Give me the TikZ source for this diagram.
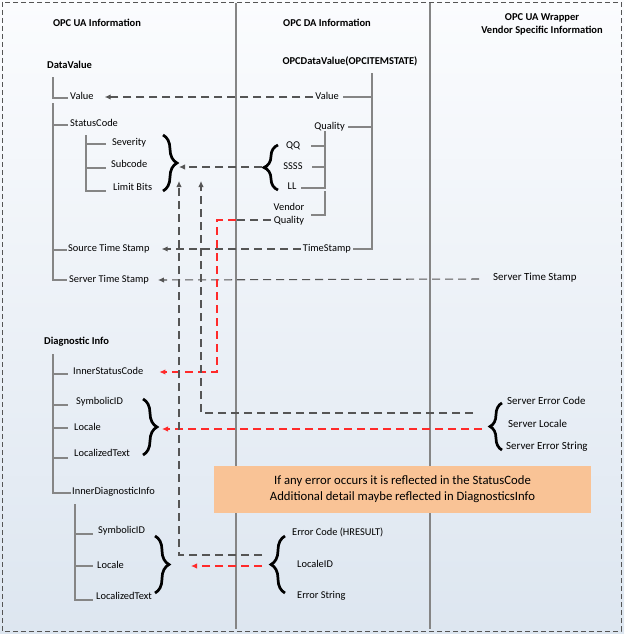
\documentclass[tikz,border=0pt]{standalone}
\usepackage{fontspec}
\setmainfont{Carlito}
\usetikzlibrary{arrows.meta,decorations.pathreplacing,calc}
\definecolor{treegray}{HTML}{858585}
\definecolor{dashgray}{HTML}{555555}
\definecolor{boxorange}{HTML}{F9C396}
\definecolor{bgtop}{HTML}{FBFCFE}
\definecolor{bgbot}{HTML}{DDE6F0}
\definecolor{dred}{HTML}{FF2A2A}
\begin{document}
\begin{tikzpicture}[x=1pt,y=-1pt,
  lbl/.style={inner sep=0pt, font=\fontsize{10.4}{12}\selectfont, text height=6.5pt, text depth=1.5pt},
  slbl/.style={lbl, font=\fontsize{10.9}{12}\selectfont},
  hdr/.style={inner sep=0pt, font=\fontsize{10.5}{13}\selectfont\bfseries},
  tree/.style={draw=treegray, line width=1.4pt},
  sep/.style={draw=treegray, line width=1.6pt},
  dline/.style={draw=dashgray, line width=1.05pt, dash pattern=on 8pt off 5pt},
  darr/.style={dline, -{Latex[length=6pt,width=5.5pt]}},
  rline/.style={draw=dred, line width=1.05pt, dash pattern=on 8pt off 5pt},
  rarr/.style={rline, -{Latex[length=6pt,width=5.5pt]}},
  bracepath/.style={draw=black, line width=2.7pt, decorate, decoration={brace, amplitude=#1}},
]
\useasboundingbox (0,0) rectangle (624,634);
\shade[top color=bgtop, bottom color=bgbot] (0,0) rectangle (624,634);
\draw[draw=dashgray, line width=0.8pt, dash pattern=on 5pt off 3pt] (2,2) rectangle (621,631);

% column separators
\draw[sep] (236,3) -- (236,629);
\draw[sep] (430,3) -- (430,629);

% headers
\node[hdr] (hUA) at (97,23) {OPC UA Information};
\node[hdr] (hDA) at (327,23) {OPC DA Information};
\node[hdr, align=center] (hW) at (542,24) {OPC UA Wrapper\\Vendor Specific Information};

% ---------------- DataValue tree
\node[hdr, anchor=west] (dv) at (47,65) {DataValue};
\node[lbl, anchor=west] (val) at (70,97) {Value};
\node[lbl, anchor=west] (sc) at (70,124) {StatusCode};
\node[lbl, anchor=west] (sev) at (112,143) {Severity};
\node[lbl, anchor=west] (sub) at (111,165) {Subcode};
\node[lbl, anchor=west] (lb) at (113,188) {Limit Bits};
\node[lbl, anchor=west] (sts) at (68,249) {Source Time Stamp};
\node[lbl, anchor=west] (svts) at (69,280) {Server Time Stamp};

\draw[tree] (53,77) -- (53,98) -- (68,98);
\draw[tree] (53,103) -- (53,280) -- (67,280);
\draw[tree] (53,125) -- (68,125);
\draw[tree] (53,250) -- (67,250);
\draw[tree] (86,135) -- (86,191) -- (106,191);
\draw[tree] (86,144) -- (106,144);
\draw[tree] (86,168) -- (106,168);

\draw[bracepath=14pt] (163,135) -- (163,191);
\coordinate (b1tip) at (179,167);
\coordinate (b1up1) at (179,181);
\coordinate (b1up2) at (201,181);

% ---------------- OPC DA tree
\node[hdr] (odv) at (350,61) {OPCDataValue(OPCITEMSTATE)};
\node[lbl, anchor=east] (dval) at (339,97) {Value};
\node[lbl, anchor=east] (dq) at (345,127) {Quality};
\node[lbl] (qq) at (293,146) {QQ};
\node[lbl] (ss) at (293,167) {SSSS};
\node[lbl] (ll) at (292,187) {LL};
\node[inner sep=0pt, align=center, font=\fontsize{10.4}{13}\selectfont] (vq) at (289,214) {Vendor\\Quality};
\node[lbl, anchor=east] (ts) at (351,249) {TimeStamp};

\draw[tree] (372,73) -- (372,249) -- (353,249);
\draw[tree] (343,97) -- (372,97);
\draw[tree] (348,127) -- (372,127);
\draw[tree] (325,131) -- (325,188) -- (301,188);
\draw[tree] (311,146) -- (325,146);
\draw[tree] (312,167) -- (325,167);
\draw[tree] (325,191) -- (325,215) -- (311,215);

\draw[bracepath=14pt] (278,190) -- (278,145);
\coordinate (b2tip) at (262,167);

% ---------------- Diagnostic info tree
\node[hdr, anchor=west] (di) at (44,342) {Diagnostic Info};
\node[lbl, anchor=west] (isc) at (73,372) {InnerStatusCode};
\node[lbl, anchor=west] (sid) at (76,402) {SymbolicID};
\node[lbl, anchor=west] (loc) at (74,428) {Locale};
\node[lbl, anchor=west] (ltx) at (74,454) {LocalizedText};
\node[lbl, anchor=west] (idi) at (72,492) {InnerDiagnosticInfo};

\draw[tree] (53,354) -- (53,493) -- (71,493);
\draw[tree] (53,374) -- (68,374);
\draw[tree] (53,405) -- (68,405);
\draw[tree] (53,428) -- (68,428);
\draw[tree] (53,458) -- (68,458);

\draw[bracepath=14pt] (143,399) -- (143,455);
\coordinate (b3tip) at (162,429);

\node[lbl, anchor=west] (sid2) at (98,531) {SymbolicID};
\node[lbl, anchor=west] (loc2) at (97,566) {Locale};
\node[lbl, anchor=west] (ltx2) at (96,597) {LocalizedText};
\draw[tree] (75,504) -- (75,600) -- (93,600);
\draw[tree] (75,534) -- (93,534);
\draw[tree] (75,566) -- (93,566);

\draw[bracepath=14pt] (155,536) -- (155,593);
\coordinate (b4tip) at (191,566);

% ---------------- DA error info
\node[lbl, anchor=west] (ec) at (292,533) {Error Code (HRESULT)};
\node[lbl, anchor=west] (lid) at (297,565) {LocaleID};
\node[lbl, anchor=west] (es) at (297,596) {Error String};
\draw[bracepath=14pt] (285,593) -- (285,536);
\coordinate (b5g) at (262,555);
\coordinate (b5r) at (262,566);

% ---------------- Wrapper info
\node[slbl, anchor=west] (wsts) at (493,278) {Server Time Stamp};
\node[slbl, anchor=west] (sec) at (507,402) {Server Error Code};
\node[slbl, anchor=west] (sloc) at (508,425) {Server Locale};
\node[slbl, anchor=west] (ses) at (506,447) {Server Error String};
\draw[bracepath=12pt] (502,450) -- (502,403);
\coordinate (b6g) at (473,413);
\coordinate (b6r) at (482,429);

% ---------------- connectors
\draw[darr] ($(dval.west)+(-2,0)$) -- ($(val.east)+(11,0)$);
\draw[darr] ($(ts.west)+(-2,0)$) -- ($(sts.east)+(12,0)$);
\draw[darr] ($(wsts.west)+(-14,1)$) -- ($(svts.east)+(9,0)$);
\draw[darr] (b2tip) -- (b1tip);
\draw[dline] ($(vq.west)+(-3,6)$) -- (236,220);
\draw[rarr] (236,220) -- (217,220) -- (217,372) -- ($(isc.east)+(16,0)$);
\draw[darr] (b6g) -- (201,413) -- (b1up2);
\draw[rarr] (b6r) -- (b3tip);
\draw[darr] (b5g) -- (179,555) -- (b1up1);
\draw[rarr] (b5r) -- (b4tip);

% ---------------- note
\node[fill=boxorange, inner sep=0pt, minimum width=377pt, minimum height=47pt, align=center,
      font=\fontsize{12.7}{16}\selectfont] (note) at (402.5,489.5)
  {If any error occurs it is reflected in the StatusCode\\Additional detail maybe reflected in DiagnosticsInfo};
\end{tikzpicture}
\end{document}
